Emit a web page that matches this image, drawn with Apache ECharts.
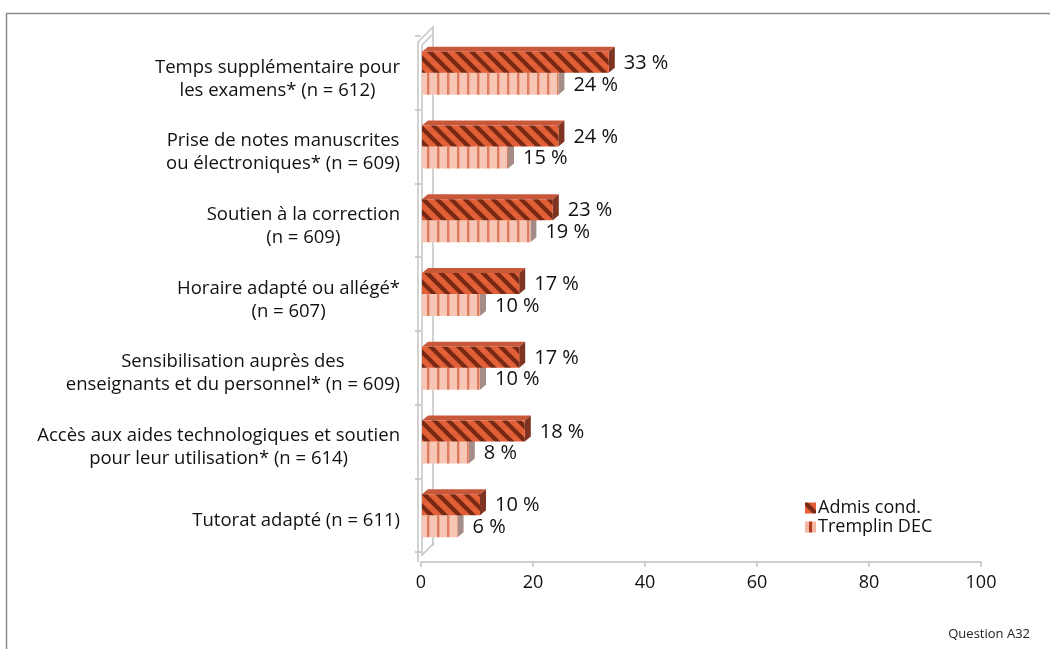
<!DOCTYPE html>
<html>
<head>
<meta charset="utf-8">
<script src="https://cdn.jsdelivr.net/npm/echarts@6/dist/echarts.min.js"></script>
<style>
html,body{margin:0;padding:0;background:#fff;}
#chart{width:1050px;height:649px;}
</style>
</head>
<body>
<div id="chart"></div>
<script>
// ---- data ----
const categories = [
  'Temps supplémentaire pour\nles examens* (n = 612)',
  'Prise de notes manuscrites\nou électroniques* (n = 609)',
  'Soutien à la correction\n(n = 609)',
  'Horaire adapté ou allégé*\n(n = 607)',
  'Sensibilisation auprès des\nenseignants et du personnel* (n = 609)',
  'Accès aux aides technologiques et soutien\npour leur utilisation* (n = 614)',
  'Tutorat adapté (n = 611)'
];
const seriesNames = ['Admis cond.', 'Tremplin DEC'];
const admisValues = [33, 24, 23, 17, 17, 18, 10];
const tremplinValues = [24, 15, 19, 10, 10, 8, 6];
const xTicks = [0, 20, 40, 60, 80, 100];
const footnote = 'Question A32';

// ---- patterns ----
function makeDiag() {
  const c = document.createElement('canvas');
  c.width = 14; c.height = 14;
  const g = c.getContext('2d');
  g.fillStyle = '#E25F38'; g.fillRect(0, 0, 14, 14);
  g.strokeStyle = 'rgba(100,32,14,0.85)'; g.lineWidth = 4.2;
  for (let k = -1; k <= 1; k++) {
    g.beginPath(); g.moveTo(k * 14 - 2, -2); g.lineTo(k * 14 + 16, 16); g.stroke();
  }
  return c;
}
function makeVert() {
  const c = document.createElement('canvas');
  c.width = 10; c.height = 4;
  const g = c.getContext('2d');
  g.fillStyle = '#F7C6B5'; g.fillRect(0, 0, 10, 4);
  g.fillStyle = '#DE7C5F'; g.fillRect(7, 0, 2, 4);
  g.fillStyle = '#EFA892'; g.fillRect(9, 0, 1, 4);
  return c;
}
function makeLegendVert() {
  const c = document.createElement('canvas');
  c.width = 11; c.height = 11;
  const g = c.getContext('2d');
  g.fillStyle = '#F3B7A2'; g.fillRect(0, 0, 11, 11);
  g.fillStyle = '#B0381C'; g.fillRect(4, 0, 3, 11);
  return c;
}
const diagPat = { image: makeDiag(), repeat: 'repeat' };
const vertPat = { image: makeVert(), repeat: 'repeat' };
const legVertPat = { image: makeLegendVert(), repeat: 'repeat' };

const DX = 6, DY = 5;
const FONT = 'Open Sans';

function barRenderer(kind) {
  return function (params, api) {
    const v = api.value(0), c = api.value(1);
    const p0 = api.coord([0, c]);
    const p1 = api.coord([v, c]);
    const cy = p0[1];
    let yTop, yBot, front, topCol, sideCol;
    if (kind === 0) {
      yTop = cy - 21; yBot = cy; front = diagPat; topCol = '#C9573A'; sideCol = '#7E3420';
    } else {
      yTop = cy; yBot = cy + 22; front = vertPat; topCol = '#E9A892'; sideCol = '#A58C86';
    }
    const x0 = p0[0] + 1, x1 = p1[0] + 3;
    return {
      type: 'group',
      children: [
        { type: 'polygon', shape: { points: [[x0, yTop], [x0 + DX, yTop - DY], [x1 + DX, yTop - DY], [x1, yTop]] },
          style: { fill: topCol } },
        { type: 'polygon', shape: { points: [[x1, yTop], [x1 + DX, yTop - DY], [x1 + DX, yBot - DY], [x1, yBot]] },
          style: { fill: sideCol } },
        { type: 'rect', shape: { x: x0, y: yTop, width: x1 - x0, height: yBot - yTop },
          style: { fill: front } },
        { type: 'text', style: { x: x1 + DX + 9, y: (yTop + yBot) / 2 + 1, text: Math.round(v) + ' %',
          fill: '#111', font: '20px "' + FONT + '"', verticalAlign: 'middle', align: 'left' } }
      ]
    };
  };
}

function wallRenderer(params, api) {
  const r = params.coordSys;
  const gx = r.x, gy = r.y, gb = r.y + r.height;
  const st = { stroke: '#C4C4C4', lineWidth: 1.5, fill: null };
  return {
    type: 'group',
    children: [
      { type: 'polyline', shape: { points: [[gx - 3, gb + 10], [gx - 3, gy + 6], [gx + 12, gy - 9], [gx + 12, gb - 6]] }, style: st },
      { type: 'polyline', shape: { points: [[gx + 1, gy + 9], [gx + 1, gb + 3], [gx + 13, gb - 9]] }, style: st },
      { type: 'line', shape: { x1: gx + 1, y1: gy + 9, x2: gx + 12, y2: gy - 2 }, style: st }
    ]
  };
}

const chart = echarts.init(document.getElementById('chart'));
const idx = categories.map((_, i) => i);
chart.setOption({
  animation: false,
  backgroundColor: '#fff',
  textStyle: { fontFamily: FONT },
  grid: { left: 421, right: 69, top: 36, bottom: 97, containLabel: false },
  xAxis: {
    type: 'value', min: 0, max: 100, interval: 20, offset: 10,
    axisLine: { show: true, lineStyle: { color: '#BFBFBF', width: 1.5 } },
    axisTick: { show: true, length: 5, lineStyle: { color: '#BFBFBF', width: 1.5 } },
    splitLine: { show: false },
    axisLabel: { color: '#111', fontSize: 18, margin: 12, fontFamily: FONT,
      formatter: v => xTicks.includes(v) ? String(v) : '' }
  },
  yAxis: {
    type: 'category', data: categories, inverse: true, offset: 3,
    axisLine: { show: false },
    axisTick: { show: true, length: 6, lineStyle: { color: '#BFBFBF', width: 1.5 } },
    axisLabel: {
      margin: 18, align: 'right', color: '#111', fontFamily: FONT, fontSize: 18.5,
      padding: [12, 0, 0, 0],
      formatter: function (s) { return s.split('\n').map(l => '{a|' + l + '}').join('\n'); },
      rich: { a: { align: 'center', fontSize: 18.5, lineHeight: 23, fontFamily: FONT, color: '#111' } }
    }
  },
  legend: {
    orient: 'vertical', left: 800, top: 494, itemGap: 1, itemWidth: 11, itemHeight: 11,
    icon: 'rect',
    textStyle: { fontSize: 18, color: '#111', fontFamily: FONT, padding: [0, 0, 0, -3] },
    data: [
      { name: seriesNames[0], itemStyle: { color: diagPat } },
      { name: seriesNames[1], itemStyle: { color: legVertPat } }
    ]
  },
  series: [
    { type: 'custom', name: 'wall', renderItem: wallRenderer, data: [[0, 0]], z: 1, silent: true },
    { type: 'custom', name: seriesNames[1], renderItem: barRenderer(1), itemStyle: { color: legVertPat },
      encode: { x: 0, y: 1 }, data: tremplinValues.map((v, i) => [v, idx[i]]), z: 2 },
    { type: 'custom', name: seriesNames[0], renderItem: barRenderer(0), itemStyle: { color: diagPat },
      encode: { x: 0, y: 1 }, data: admisValues.map((v, i) => [v, idx[i]]), z: 3 }
  ],
  graphic: [
    { type: 'rect', left: 4, top: 11, shape: { width: 1200, height: 800 }, silent: true, z: -10,
      style: { fill: null, stroke: '#8C8C8C', lineWidth: 1.5 } },
    { type: 'text', right: 20, top: 628, style: { text: footnote, fill: '#222', font: '13px "' + FONT + '"' } }
  ]
});
</script>
</body>
</html>
